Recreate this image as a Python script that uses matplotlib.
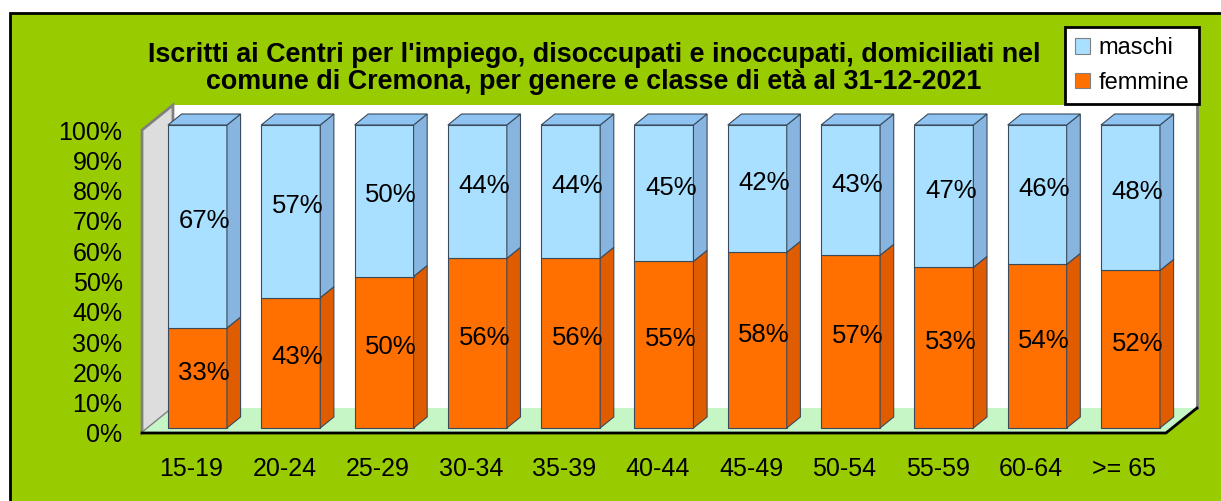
import matplotlib
matplotlib.use("Agg")
import matplotlib.pyplot as plt
from matplotlib.patches import Polygon, Rectangle, Patch

plt.rcParams['font.family'] = ['Liberation Sans', 'DejaVu Sans']

classi = ["15-19", "20-24", "25-29", "30-34", "35-39", "40-44",
          "45-49", "50-54", "55-59", "60-64", ">= 65"]
femmine = [33, 43, 50, 56, 56, 55, 58, 57, 53, 54, 52]
maschi = [67, 57, 50, 44, 44, 45, 42, 43, 47, 46, 48]

# pseudo-3D geometry (data units)
DX, DY = 0.332, 8.25       # shift for full depth
ZB0, ZB1 = 0.2, 0.64       # bar front / back depth
W = 0.632                  # bar width
XL, XR = -0.528, 10.447

col = {
    "maschi": ("#AAE0FF", "#88B4E0", "#8EC3F2"),
    "femmine": ("#FF7000", "#E05C00", "#FF8A30"),
}


def P(x, y, z):
    return (x + z * DX, y + z * DY)


fig = plt.figure(figsize=(12.21, 5.01), dpi=100)
fig.patch.set_facecolor("white")
fig.patches.append(Rectangle((10 / 1221, -0.02), 1.0, 1 - 13 / 501 + 0.02,
                             transform=fig.transFigure, facecolor="#99CC00",
                             edgecolor="black", linewidth=2, zorder=-1))

ax = fig.add_axes([142 / 1221, (501 - 433) / 501, 1024 / 1221, 303 / 501])
ax.set_xlim(XL, XR)
ax.set_ylim(0, 100)
ax.patch.set_visible(False)
for s in ax.spines.values():
    s.set_visible(False)

def poly(pts, fc, ec="none", lw=0.8, z=1):
    ax.add_patch(Polygon(pts, closed=True, facecolor=fc, edgecolor=ec,
                         linewidth=lw, clip_on=False, zorder=z))

# back wall
poly([P(XL, 0, 1), P(XR, 0, 1), P(XR, 100, 1), P(XL, 100, 1)], "white", z=1)
ax.plot([P(XR, 0, 1)[0]] * 2, [P(XR, 0, 1)[1], P(XR, 100, 1)[1]],
        color="#808080", lw=2, clip_on=False, zorder=1.5)
# left wall
poly([P(XL, 0, 0), P(XL, 100, 0), P(XL, 100, 1), P(XL, 0, 1)],
     "#DDDDDD", "#808080", 2, z=2)
# floor
poly([P(XL, 0, 0), P(XR, 0, 0), P(XR, 0, 1), P(XL, 0, 1)], "#C6F5C6", z=2)
fx = [P(XL, 0, 0)[0], P(XR, 0, 0)[0], P(XR, 0, 1)[0]]
fy = [P(XL, 0, 0)[1], P(XR, 0, 0)[1], P(XR, 0, 1)[1]]
ax.plot(fx, fy, color="black", lw=2, clip_on=False, zorder=2.5)

# bars
ec = "#3A4A5A"
for i in range(len(classi)):
    segs = [(0, femmine[i], "femmine"), (femmine[i], 100, "maschi")]
    for b, t, name in segs:
        front, side, top = col[name]
        x0, x1 = i - W / 2, i + W / 2
        poly([P(x0, b, ZB0), P(x1, b, ZB0), P(x1, t, ZB0), P(x0, t, ZB0)],
             front, ec, 0.8, z=3)
        poly([P(x1, b, ZB0), P(x1, b, ZB1), P(x1, t, ZB1), P(x1, t, ZB0)],
             side, ec, 0.8, z=3)
        if t == 100:
            poly([P(x0, t, ZB0), P(x1, t, ZB0), P(x1, t, ZB1), P(x0, t, ZB1)],
                 top, ec, 0.8, z=3)
        v = t - b
        cx, cy = P(i, (b + t) / 2, (ZB0 + ZB1) / 2)
        ax.text(cx, cy, f"{v}%", ha="center", va="center", fontsize=18.5,
                color="black", zorder=4)

ax.set_yticks(range(0, 101, 10))
ax.set_yticklabels([f"{v}%" for v in range(0, 101, 10)], fontsize=18)
ax.set_xticks(range(len(classi)))
ax.set_xticklabels(classi, fontsize=18)
ax.tick_params(axis="y", length=0, pad=14)
ax.tick_params(axis="x", length=0, pad=17)

fig.text(594 / 1221, 1 - 68.5 / 501,
         "Iscritti ai Centri per l'impiego, disoccupati e inoccupati, domiciliati nel\n"
         "comune di Cremona, per genere e classe di età al 31-12-2021",
         ha="center", va="center", fontsize=19.4, fontweight="bold",
         linespacing=1.07)

handles = [Patch(facecolor=col["maschi"][0], edgecolor="#808080", lw=0.8),
           Patch(facecolor=col["femmine"][0], edgecolor="#808080", lw=0.8)]
leg = fig.legend(handles, ["maschi", "femmine"], loc="upper right",
                 bbox_to_anchor=(1199 / 1221, 1 - 27 / 501), fontsize=17,
                 frameon=True, fancybox=False, framealpha=1,
                 handlelength=0.65, handleheight=0.65, handletextpad=0.35,
                 labelspacing=0.55, borderpad=0.42, borderaxespad=0)
leg.get_frame().set_edgecolor("black")
leg.get_frame().set_linewidth(2)
leg.set_zorder(10)

fig.savefig("out.png", dpi=100)
